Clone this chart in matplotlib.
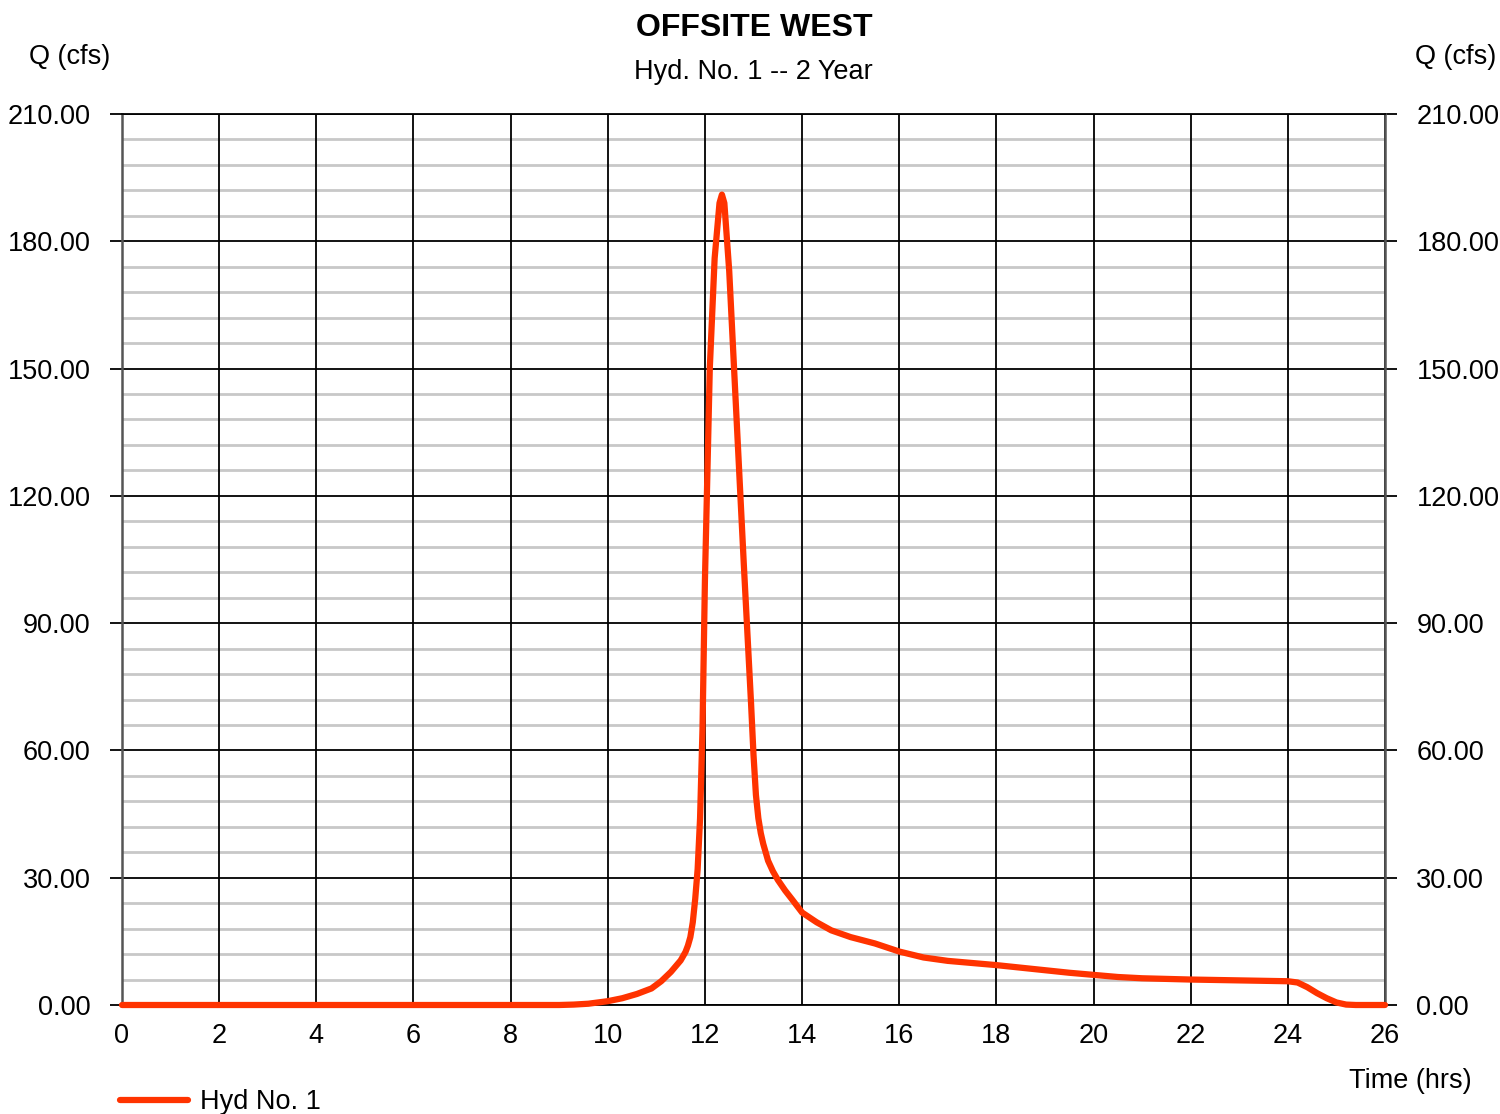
import matplotlib
matplotlib.use("Agg")
import matplotlib.pyplot as plt
from matplotlib.ticker import FixedLocator

plt.rcParams['font.family'] = ['Liberation Sans', 'DejaVu Sans']

title = "OFFSITE WEST"
subtitle = "Hyd. No. 1 -- 2 Year"
series_name = "Hyd No. 1"

time_hrs = [0, 1, 2, 3, 4, 5, 6, 7, 8, 9.0, 9.3, 9.6, 10.0, 10.3, 10.6, 10.9, 11.1, 11.3,
            11.5, 11.6, 11.65, 11.7, 11.75, 11.8, 11.85, 11.9, 11.95, 12.0, 12.1, 12.2, 12.3,
            12.35, 12.4, 12.5, 12.6, 12.7, 12.8, 12.9, 12.95, 13.0, 13.05, 13.1, 13.15, 13.2,
            13.3, 13.4, 13.5, 13.65, 13.8, 14.0, 14.3, 14.6, 15.0, 15.5, 16.0, 16.5, 17.0,
            17.5, 18.0, 18.5, 19.0, 19.5, 20.0, 20.5, 21.0, 22.0, 23.0, 24.0, 24.2, 24.4,
            24.6, 24.8, 25.0, 25.2, 25.4, 26.0]
flow_cfs = [0, 0, 0, 0, 0, 0, 0, 0, 0, 0.0, 0.1, 0.3, 0.9, 1.6, 2.6, 3.9, 5.6, 7.8,
            10.5, 12.5, 14.0, 16.0, 19.5, 25.0, 32.0, 44.0, 65.0, 100.0, 150.0, 176.0, 189.0,
            191.0, 189.0, 173.0, 150.0, 127.0, 104.0, 82.0, 71.0, 59.0, 49.5, 44.0, 40.5, 38.0,
            34.0, 31.5, 29.5, 27.0, 24.8, 21.8, 19.5, 17.6, 16.0, 14.5, 12.6, 11.2, 10.4,
            9.9, 9.4, 8.8, 8.2, 7.6, 7.1, 6.6, 6.3, 6.0, 5.8, 5.6, 5.3, 4.2,
            2.8, 1.6, 0.6, 0.1, 0.0, 0.0]

x_ticks = list(range(0, 27, 2))
y_ticks = list(range(0, 211, 30))
y_minor = [v for v in range(0, 211, 6) if v % 30 != 0]
y_labels = [f"{v:.2f}" for v in y_ticks]

fig = plt.figure(figsize=(15, 11.14), dpi=100)
ax = fig.add_axes([122/1500, 1 - 1005/1114, (1385-122)/1500, (1005-114)/1114])

ax.set_xlim(0, 26)
ax.set_ylim(0, 210)

for yv in y_minor:
    ax.axhline(yv, color='#c8c8c8', lw=2.0, zorder=1)
for yv in y_ticks:
    ax.axhline(yv, color='black', lw=1.3, zorder=2)
for xv in x_ticks:
    ax.axvline(xv, color='black', lw=1.3, zorder=2)

ax.plot(time_hrs, flow_cfs, color='#ff3300', lw=4.5, solid_capstyle='round',
        solid_joinstyle='round', zorder=5, clip_on=False, label=series_name)

for s in ['left', 'right']:
    ax.spines[s].set_color('#555555')
    ax.spines[s].set_linewidth(1.8)
for s in ['top', 'bottom']:
    ax.spines[s].set_color('black')
    ax.spines[s].set_linewidth(1.3)

ax.xaxis.set_major_locator(FixedLocator(x_ticks))
ax.set_xticklabels([str(v) for v in x_ticks])
ax.yaxis.set_major_locator(FixedLocator(y_ticks))
ax.set_yticklabels(y_labels)
ax.tick_params(axis='x', length=0, pad=13, labelsize=19.5)
ax.tick_params(axis='y', which='major', direction='out', length=8.6, width=1.3,
               color='black', left=True, right=True, labelleft=True, labelright=True,
               labelsize=19.5, pad=14)

fig.text(754/1500, 1 - 28/1114, title, ha='center', va='center', fontsize=23, fontweight='bold')
fig.text(753/1500, 1 - 72/1114, subtitle, ha='center', va='center', fontsize=19.5)
fig.text(70/1500, 1 - 57/1114, "Q (cfs)", ha='center', va='center', fontsize=19.5)
fig.text(1456/1500, 1 - 57/1114, "Q (cfs)", ha='center', va='center', fontsize=19.5)
fig.text(1410/1500, 1 - 1081/1114, "Time (hrs)", ha='center', va='center', fontsize=19.5)

fig.legend(loc='center left', bbox_to_anchor=(120/1500, 1 - 1102/1114), frameon=False,
           borderpad=0, borderaxespad=0, handlelength=2.5, handletextpad=0.45,
           fontsize=19.5)

fig.savefig("out.png", dpi=100)
